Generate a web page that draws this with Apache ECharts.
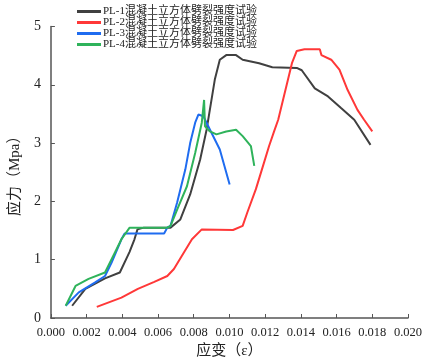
<!DOCTYPE html>
<html><head><meta charset="utf-8">
<script src="https://cdn.jsdelivr.net/npm/echarts@6/dist/echarts.min.js"></script>
<style>html,body{margin:0;padding:0;background:#fff}#c{width:427px;height:364px}</style>
</head><body><div id="c"></div>
<script>
const seriesNames = ['PL-1混凝土立方体劈裂强度试验','PL-2混凝土立方体劈裂强度试验','PL-3混凝土立方体劈裂强度试验','PL-4混凝土立方体劈裂强度试验'];
const colors = ['#404040','#ff3838','#1f6cf0','#2fb35b'];
const xTicks = ['0.000','0.002','0.004','0.006','0.008','0.010','0.012','0.014','0.016','0.018','0.020'];
const pl1 = [[0.00119,0.21],[0.00193,0.50],[0.00303,0.68],[0.00386,0.78],[0.0044,1.13],[0.00468,1.35],[0.00485,1.52],[0.0052,1.55],[0.0067,1.55],[0.00725,1.69],[0.0078,2.12],[0.00836,2.72],[0.00872,3.23],[0.00918,4.09],[0.00946,4.43],[0.00982,4.51],[0.01037,4.51],[0.01074,4.43],[0.01166,4.37],[0.0124,4.30],[0.01377,4.29],[0.01405,4.25],[0.01478,3.94],[0.01552,3.80],[0.01625,3.60],[0.01699,3.40],[0.0179,2.97]];
const pl2 = [[0.00257,0.19],[0.00395,0.35],[0.00487,0.50],[0.00579,0.62],[0.00652,0.72],[0.00689,0.84],[0.00744,1.12],[0.0079,1.35],[0.00845,1.52],[0.0102,1.51],[0.01074,1.58],[0.011,1.81],[0.01148,2.21],[0.01185,2.58],[0.01222,2.95],[0.0125,3.20],[0.01273,3.40],[0.0135,4.37],[0.01377,4.58],[0.0142,4.61],[0.01506,4.61],[0.01515,4.51],[0.0157,4.43],[0.01616,4.26],[0.01662,3.91],[0.01717,3.57],[0.01754,3.40],[0.018,3.20]];
const pl3 = [[0.00083,0.21],[0.00156,0.44],[0.00248,0.61],[0.00303,0.72],[0.0034,0.95],[0.00395,1.35],[0.00413,1.45],[0.00634,1.45],[0.00652,1.55],[0.0067,1.58],[0.00707,1.98],[0.00753,2.55],[0.0078,3.0],[0.00808,3.35],[0.00826,3.49],[0.00854,3.46],[0.00891,3.23],[0.00946,2.89],[0.01001,2.29]];
const pl4 = [[0.00083,0.21],[0.00138,0.55],[0.00211,0.67],[0.00303,0.78],[0.00358,1.12],[0.00395,1.35],[0.00441,1.55],[0.00652,1.55],[0.0067,1.58],[0.00707,1.86],[0.00762,2.26],[0.00808,2.83],[0.00845,3.35],[0.00858,3.74],[0.00863,3.29],[0.00891,3.20],[0.00927,3.15],[0.00982,3.20],[0.01037,3.23],[0.01074,3.12],[0.0112,2.95],[0.01139,2.61]];
const allData = [pl1,pl2,pl3,pl4];
const serif = '"Liberation Serif","DejaVu Serif","Noto Sans CJK SC",serif';
const chart = echarts.init(document.getElementById('c'));
chart.setOption({
  animation:false,
  legend:{orient:'vertical',left:72,top:1,itemWidth:24,itemHeight:11,itemGap:0,
    textStyle:{fontFamily:serif,fontSize:11,lineHeight:11,color:'#222',padding:[0,0,0,-3]},
    data:seriesNames.map(n=>({name:n,icon:'path://M0,4h24v3h-24z'}))},
  grid:{left:45,right:19,top:26.5,bottom:45},
  xAxis:{type:'value',min:0,max:0.02,interval:0.002,
    name:'应变（ε）',nameLocation:'middle',nameGap:26,
    nameTextStyle:{fontFamily:serif,fontSize:15,color:'#222'},
    axisLine:{lineStyle:{color:'#555',width:1.5}},
    axisTick:{inside:true,length:4,lineStyle:{color:'#555'}},
    axisLabel:{fontFamily:serif,fontSize:12.5,color:'#222',margin:8,formatter:(v,i)=>xTicks[i]},
    splitLine:{show:false}},
  yAxis:{type:'value',min:0,max:5,interval:1,
    name:'应力（Mpa）',nameLocation:'middle',nameGap:26,nameRotate:90,
    nameTextStyle:{fontFamily:serif,fontSize:15,color:'#222'},
    axisLine:{show:true,lineStyle:{color:'#555',width:1.5}},
    axisTick:{show:true,inside:true,length:4,lineStyle:{color:'#555'}},
    axisLabel:{fontFamily:serif,fontSize:14,color:'#222',margin:10},
    splitLine:{show:false}},
  series:allData.map((d,i)=>({name:seriesNames[i],type:'line',data:d,showSymbol:false,symbol:'none',
    lineStyle:{color:colors[i],width:2},itemStyle:{color:colors[i]}}))
});
</script></body></html>
